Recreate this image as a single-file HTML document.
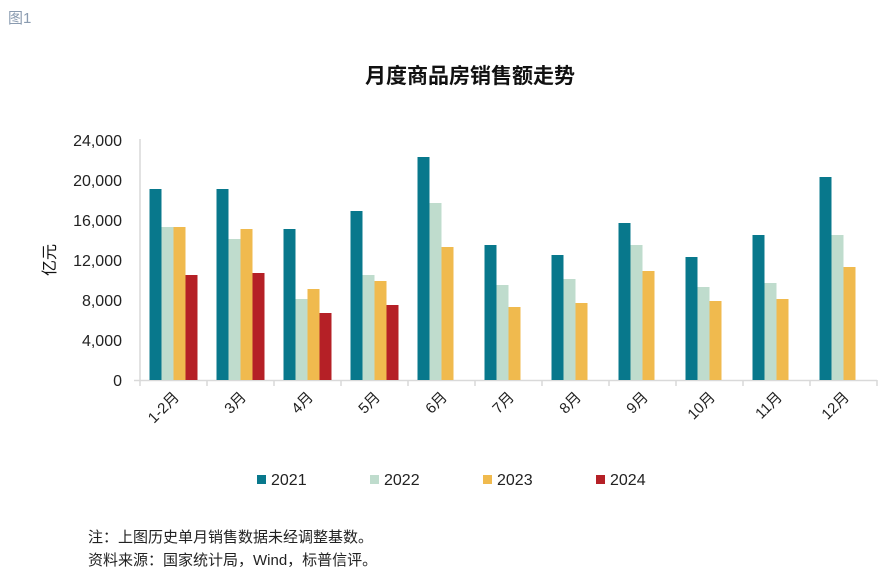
<!DOCTYPE html>
<html><head><meta charset="utf-8"><style>
body{margin:0;background:#fff;width:890px;height:575px;overflow:hidden;font-family:"Liberation Sans","Noto Sans CJK SC",sans-serif;}
</style></head><body>
<svg width="890" height="575" xmlns="http://www.w3.org/2000/svg" font-family="Liberation Sans, Noto Sans CJK SC, sans-serif">
<text x="8" y="23" font-size="15" fill="#8a9bb0">图1</text>
<text x="470" y="83" font-size="21" font-weight="bold" text-anchor="middle" fill="#111">月度商品房销售额走势</text>
<g font-size="16" fill="#222" text-anchor="end">
<text x="122" y="146">24,000</text><text x="122" y="186">20,000</text><text x="122" y="226">16,000</text>
<text x="122" y="266">12,000</text><text x="122" y="306">8,000</text><text x="122" y="346">4,000</text><text x="122" y="386">0</text>
</g>
<text transform="translate(55,260) rotate(-90)" font-size="16" text-anchor="middle" fill="#111">亿元</text>
<g stroke="#d9d9d9" stroke-width="1.5">
<line x1="140" y1="139" x2="140" y2="386"/><line x1="134" y1="380.5" x2="877" y2="380.5"/>
<line x1="207" y1="380" x2="207" y2="386"/><line x1="274" y1="380" x2="274" y2="386"/><line x1="341" y1="380" x2="341" y2="386"/>
<line x1="408" y1="380" x2="408" y2="386"/><line x1="475" y1="380" x2="475" y2="386"/><line x1="542" y1="380" x2="542" y2="386"/>
<line x1="609" y1="380" x2="609" y2="386"/><line x1="676" y1="380" x2="676" y2="386"/><line x1="743" y1="380" x2="743" y2="386"/>
<line x1="810" y1="380" x2="810" y2="386"/><line x1="877" y1="380" x2="877" y2="386"/>
</g>
<g fill="#08788c">
<rect x="149.5" y="189" width="12" height="191"/><rect x="216.5" y="189" width="12" height="191"/>
<rect x="283.5" y="229" width="12" height="151"/><rect x="350.5" y="211" width="12" height="169"/>
<rect x="417.5" y="157" width="12" height="223"/><rect x="484.5" y="245" width="12" height="135"/>
<rect x="551.5" y="255" width="12" height="125"/><rect x="618.5" y="223" width="12" height="157"/>
<rect x="685.5" y="257" width="12" height="123"/><rect x="752.5" y="235" width="12" height="145"/>
<rect x="819.5" y="177" width="12" height="203"/>
</g>
<g fill="#bfdccd">
<rect x="161.5" y="227" width="12" height="153"/><rect x="228.5" y="239" width="12" height="141"/>
<rect x="295.5" y="299" width="12" height="81"/><rect x="362.5" y="275" width="12" height="105"/>
<rect x="429.5" y="203" width="12" height="177"/><rect x="496.5" y="285" width="12" height="95"/>
<rect x="563.5" y="279" width="12" height="101"/><rect x="630.5" y="245" width="12" height="135"/>
<rect x="697.5" y="287" width="12" height="93"/><rect x="764.5" y="283" width="12" height="97"/>
<rect x="831.5" y="235" width="12" height="145"/>
</g>
<g fill="#f0ba4e">
<rect x="173.5" y="227" width="12" height="153"/><rect x="240.5" y="229" width="12" height="151"/>
<rect x="307.5" y="289" width="12" height="91"/><rect x="374.5" y="281" width="12" height="99"/>
<rect x="441.5" y="247" width="12" height="133"/><rect x="508.5" y="307" width="12" height="73"/>
<rect x="575.5" y="303" width="12" height="77"/><rect x="642.5" y="271" width="12" height="109"/>
<rect x="709.5" y="301" width="12" height="79"/><rect x="776.5" y="299" width="12" height="81"/>
<rect x="843.5" y="267" width="12" height="113"/>
</g>
<g fill="#b52026">
<rect x="185.5" y="275" width="12" height="105"/><rect x="252.5" y="273" width="12" height="107"/>
<rect x="319.5" y="313" width="12" height="67"/><rect x="386.5" y="305" width="12" height="75"/>
</g>
<g font-size="15" fill="#222" text-anchor="end">
<text transform="translate(180,398) rotate(-45)">1-2月</text>
<text transform="translate(247,398) rotate(-45)">3月</text>
<text transform="translate(314,398) rotate(-45)">4月</text>
<text transform="translate(381,398) rotate(-45)">5月</text>
<text transform="translate(448,398) rotate(-45)">6月</text>
<text transform="translate(515,398) rotate(-45)">7月</text>
<text transform="translate(582,398) rotate(-45)">8月</text>
<text transform="translate(649,398) rotate(-45)">9月</text>
<text transform="translate(716,398) rotate(-45)">10月</text>
<text transform="translate(783,398) rotate(-45)">11月</text>
<text transform="translate(850,398) rotate(-45)">12月</text>
</g>
<rect x="257" y="475" width="9" height="9" fill="#08788c"/><text x="271" y="485" font-size="16" fill="#222">2021</text>
<rect x="370" y="475" width="9" height="9" fill="#bfdccd"/><text x="384" y="485" font-size="16" fill="#222">2022</text>
<rect x="483" y="475" width="9" height="9" fill="#f0ba4e"/><text x="497" y="485" font-size="16" fill="#222">2023</text>
<rect x="596" y="475" width="9" height="9" fill="#b52026"/><text x="610" y="485" font-size="16" fill="#222">2024</text>
<text x="88" y="542" font-size="15" fill="#222">注：上图历史单月销售数据未经调整基数。</text>
<text x="88" y="565" font-size="15" fill="#222">资料来源：国家统计局，Wind，标普信评。</text>
</svg>
</body></html>
